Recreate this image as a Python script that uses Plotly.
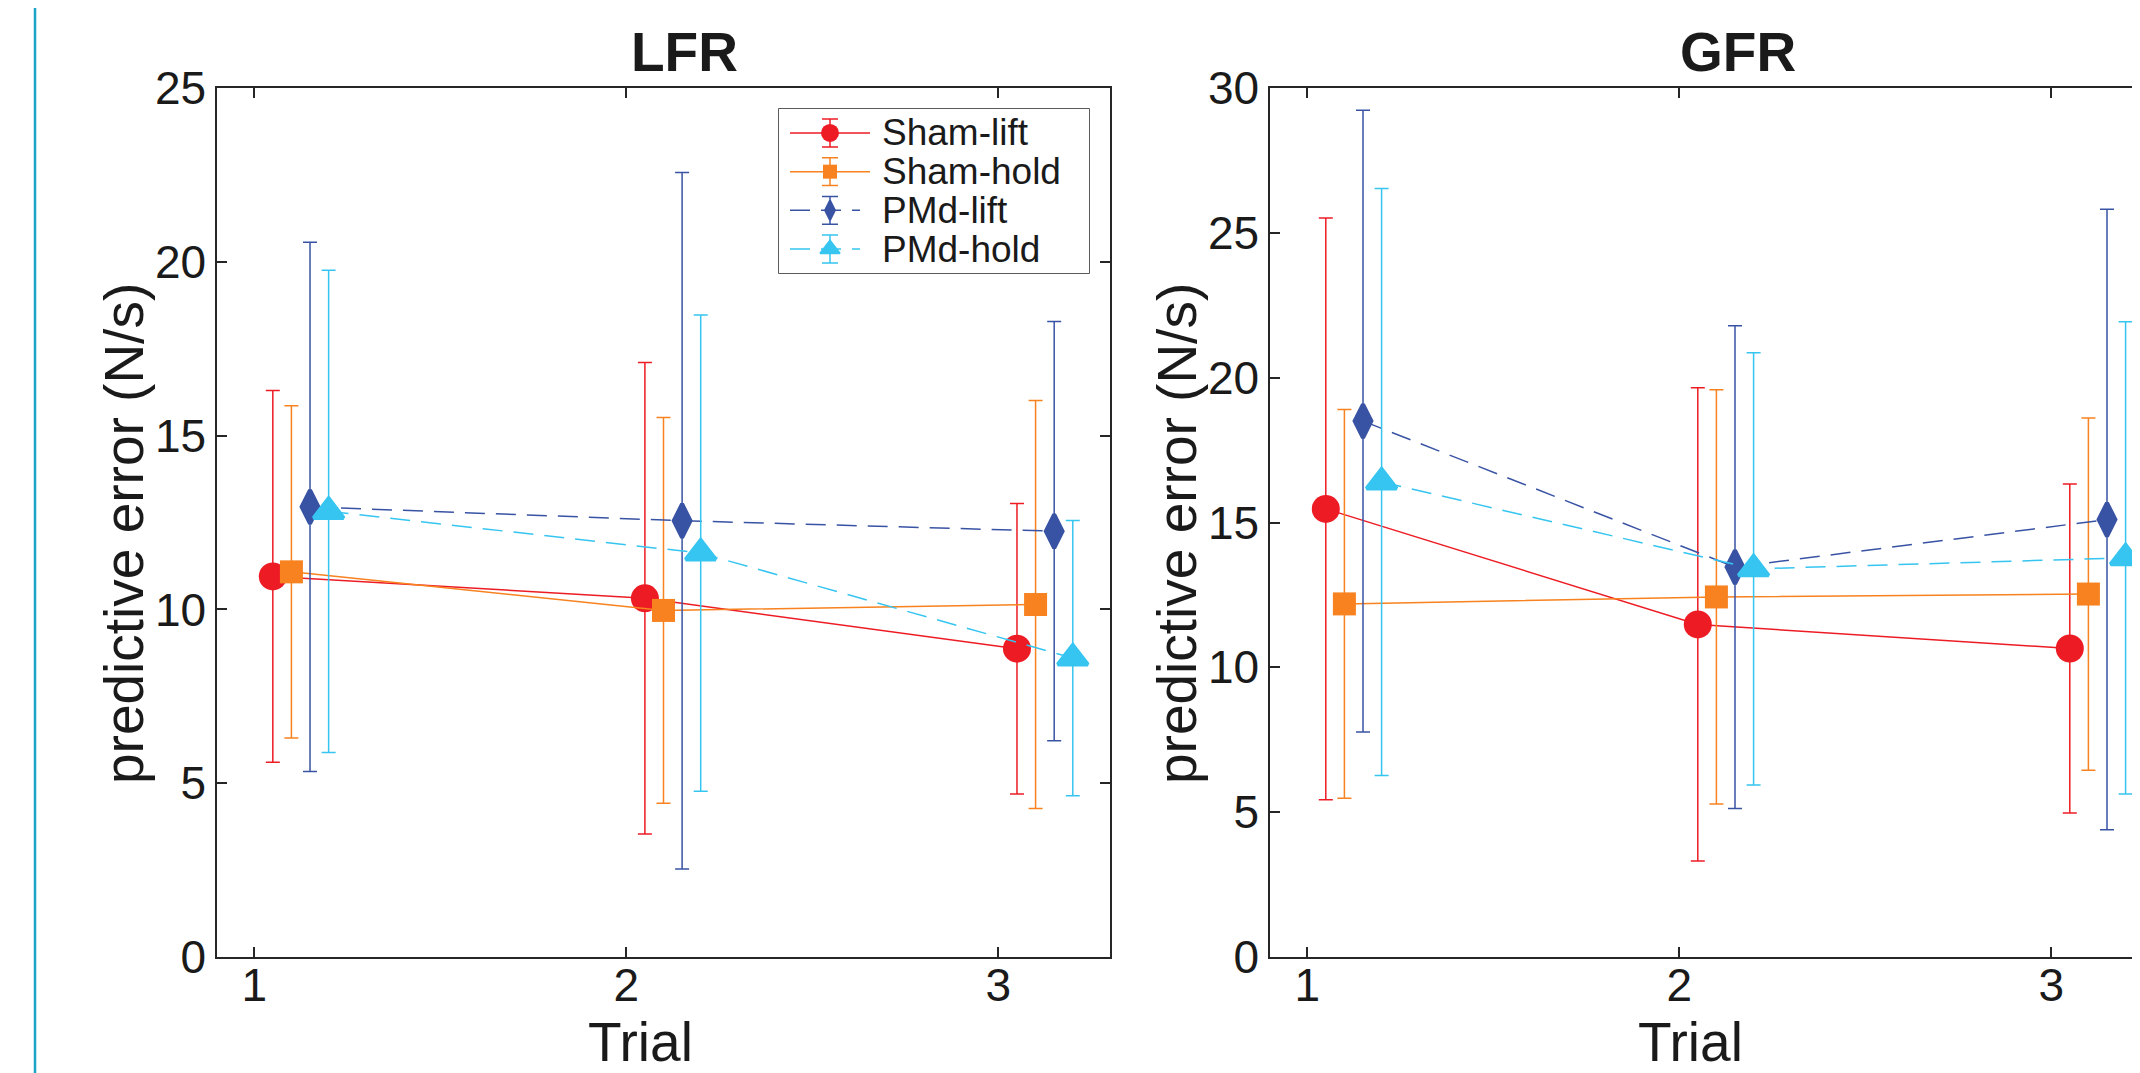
import plotly.graph_objects as go

# ---------------- data ----------------
trials = [1, 2, 3]
series_names = ["Sham-lift", "Sham-hold", "PMd-lift", "PMd-hold"]

# LFR panel (mean, SD)
lfr_sham_lift_mean = [10.95, 10.32, 8.87]
lfr_sham_lift_sd = [5.35, 6.78, 4.18]
lfr_sham_hold_mean = [11.08, 9.97, 10.14]
lfr_sham_hold_sd = [4.78, 5.55, 5.87]
lfr_pmd_lift_mean = [12.95, 12.55, 12.25]
lfr_pmd_lift_sd = [7.61, 10.02, 6.03]
lfr_pmd_hold_mean = [12.82, 11.62, 8.60]
lfr_pmd_hold_sd = [6.94, 6.85, 3.96]

# GFR panel (mean, SD)
gfr_sham_lift_mean = [15.47, 11.48, 10.65]
gfr_sham_lift_sd = [10.04, 8.17, 5.68]
gfr_sham_hold_mean = [12.19, 12.43, 12.53]
gfr_sham_hold_sd = [6.71, 7.15, 6.08]
gfr_pmd_lift_mean = [18.50, 13.46, 15.10]
gfr_pmd_lift_sd = [10.73, 8.33, 10.71]
gfr_pmd_hold_mean = [16.40, 13.40, 13.78]
gfr_pmd_hold_sd = [10.13, 7.46, 8.15]

lfr_y_ticks = [0, 5, 10, 15, 20, 25]
gfr_y_ticks = [0, 5, 10, 15, 20, 25, 30]

# ---------------- styles ----------------
colors = {"Sham-lift": "#ED1C24", "Sham-hold": "#F7821F",
          "PMd-lift": "#3953A4", "PMd-hold": "#36C5F0"}
symbols = {"Sham-lift": "circle", "Sham-hold": "square",
           "PMd-lift": "diamond-tall", "PMd-hold": "triangle-up"}
msizes = {"Sham-lift": 28, "Sham-hold": 23, "PMd-lift": 24, "PMd-hold": 26}
mlines = {"Sham-lift": 0, "Sham-hold": 0, "PMd-lift": 4, "PMd-hold": 4}
leg_sizes = {"Sham-lift": 18, "Sham-hold": 14, "PMd-lift": 14, "PMd-hold": 17}
leg_symbols = {"Sham-lift": "circle", "Sham-hold": "square",
               "PMd-lift": "diamond-tall", "PMd-hold": "triangle-up"}
leg_lines = {"Sham-lift": 0, "Sham-hold": 0, "PMd-lift": 2, "PMd-hold": 2}
dashes = {"Sham-lift": "solid", "Sham-hold": "solid",
          "PMd-lift": "20px,11px", "PMd-hold": "20px,11px"}
dodge = {"Sham-lift": 0.05, "Sham-hold": 0.10, "PMd-lift": 0.15, "PMd-hold": 0.20}

FONT = "Liberation Sans, Arial, Helvetica, sans-serif"
AXC = "#262626"
TXT = "#1a1a1a"

lfr = {"Sham-lift": (lfr_sham_lift_mean, lfr_sham_lift_sd),
       "Sham-hold": (lfr_sham_hold_mean, lfr_sham_hold_sd),
       "PMd-lift": (lfr_pmd_lift_mean, lfr_pmd_lift_sd),
       "PMd-hold": (lfr_pmd_hold_mean, lfr_pmd_hold_sd)}
gfr = {"Sham-lift": (gfr_sham_lift_mean, gfr_sham_lift_sd),
       "Sham-hold": (gfr_sham_hold_mean, gfr_sham_hold_sd),
       "PMd-lift": (gfr_pmd_lift_mean, gfr_pmd_lift_sd),
       "PMd-hold": (gfr_pmd_hold_mean, gfr_pmd_hold_sd)}

# page offset (default body margin of the html page)
OFF = 8
FW, FH = 2140 - OFF, 1073 - OFF


def px(x):
    return (x - OFF) / FW


def py(y):
    return 1 - (y - OFF) / FH


fig = go.Figure()

for data, xa, ya in [(lfr, "x", "y"), (gfr, "x2", "y2")]:
    for name in series_names:
        mean, sd = data[name]
        xs = [t + dodge[name] for t in trials]
        fig.add_trace(go.Scatter(
            x=xs, y=mean, xaxis=xa, yaxis=ya, name=name, showlegend=False,
            mode="lines+markers",
            line=dict(color=colors[name], width=1.5, dash=dashes[name]),
            marker=dict(symbol=symbols[name], size=msizes[name], color=colors[name],
                        line=dict(color=colors[name], width=mlines[name])),
            error_y=dict(type="data", array=sd, visible=True, color=colors[name],
                         thickness=1.5, width=7),
        ))

# ---------- custom legend (box + glyphs on an overlay axis) ----------
LB_X0, LB_X1, LB_Y0, LB_Y1 = 779, 1089, 109, 273
n = len(series_names)
pad_rows = 0.62
for i, name in enumerate(series_names):
    line_end = 91 if name.startswith("Sham") else 81
    fig.add_trace(go.Scatter(
        x=[11, 51, line_end], y=[i, i, i], xaxis="x3", yaxis="y3", showlegend=False,
        mode="lines", line=dict(color=colors[name], width=1.5, dash=dashes[name]),
        hoverinfo="skip"))
    fig.add_trace(go.Scatter(
        x=[51], y=[i], xaxis="x3", yaxis="y3", showlegend=False, mode="markers",
        marker=dict(symbol=leg_symbols[name], size=leg_sizes[name], color=colors[name],
                    line=dict(color=colors[name], width=leg_lines[name])),
        error_y=dict(type="constant", value=0.36, visible=True, color=colors[name],
                     thickness=1.5, width=8),
        hoverinfo="skip"))

axis_common = dict(showline=True, linewidth=1.5, linecolor=AXC, ticks="inside",
                   ticklen=10, tickwidth=1.5, tickcolor=AXC, showgrid=False,
                   zeroline=False, automargin=False,
                   tickfont=dict(family=FONT, size=46, color=TXT))

ydom = [py(957), py(88)]
fig.update_layout(
    width=FW, height=FH, margin=dict(l=0, r=0, t=0, b=0, pad=0), autosize=False,
    paper_bgcolor="white", plot_bgcolor="white",
    font=dict(family=FONT, color=TXT),
    xaxis=dict(domain=[px(217), px(1110)], range=[0.9, 3.3], tickvals=trials,
               mirror="ticks", anchor="y", ticklabelstandoff=-13, **axis_common),
    yaxis=dict(domain=ydom, range=[0, 25], tickvals=lfr_y_ticks,
               mirror="ticks", anchor="x", ticklabelstandoff=0, **axis_common),
    xaxis2=dict(domain=[px(1270), 1.0], range=[0.9, 0.9 + (2140 - 1270) / 372.0],
                tickvals=trials, mirror="ticks", anchor="y2", ticklabelstandoff=-13, **axis_common),
    yaxis2=dict(domain=ydom, range=[0, 30], tickvals=gfr_y_ticks,
                mirror=False, anchor="x2", ticklabelstandoff=0, **axis_common),
    xaxis3=dict(domain=[px(LB_X0), px(LB_X1)], range=[0, LB_X1 - LB_X0], visible=False,
                fixedrange=True, automargin=False),
    yaxis3=dict(domain=[py(LB_Y1), py(LB_Y0)], range=[n - 1 + pad_rows, -pad_rows],
                visible=False, fixedrange=True, automargin=False),
    showlegend=False,
)

ann = []
for i, name in enumerate(series_names):
    ann.append(dict(text=name, x=101, y=i, xref="x3", yref="y3", showarrow=False,
                    xanchor="left", yanchor="middle",
                    font=dict(family=FONT, size=37, color=TXT)))
ann.append(dict(text="<b>LFR</b>", x=px(684), y=py(52), xref="paper", yref="paper",
                showarrow=False, xanchor="center", yanchor="middle",
                font=dict(family=FONT, size=55, color=TXT)))
ann.append(dict(text="<b>GFR</b>", x=px(1738), y=py(52), xref="paper", yref="paper",
                showarrow=False, xanchor="center", yanchor="middle",
                font=dict(family=FONT, size=55, color=TXT)))
for cx in (640, 1690):
    ann.append(dict(text="Trial", x=px(cx), y=py(1042), xref="paper", yref="paper",
                    showarrow=False, xanchor="center", yanchor="middle",
                    font=dict(family=FONT, size=55, color=TXT)))
for cx in (124, 1177):
    ann.append(dict(text="predictive error (N/s)", x=px(cx), y=py(534), xref="paper", yref="paper",
                    showarrow=False, xanchor="center", yanchor="middle", textangle=-90,
                    font=dict(family=FONT, size=55, color=TXT)))
fig.update_layout(annotations=ann)

fig.add_shape(type="rect", xref="paper", yref="paper",
              x0=px(LB_X0), x1=px(LB_X1), y0=py(LB_Y1), y1=py(LB_Y0),
              fillcolor="white", line=dict(color=AXC, width=1.5), layer="below")
fig.add_shape(type="line", xref="paper", yref="paper", x0=px(35), x1=px(35), y0=0, y1=1,
              line=dict(color="#1BA3C8", width=2.5))

fig.write_html("out.html")
